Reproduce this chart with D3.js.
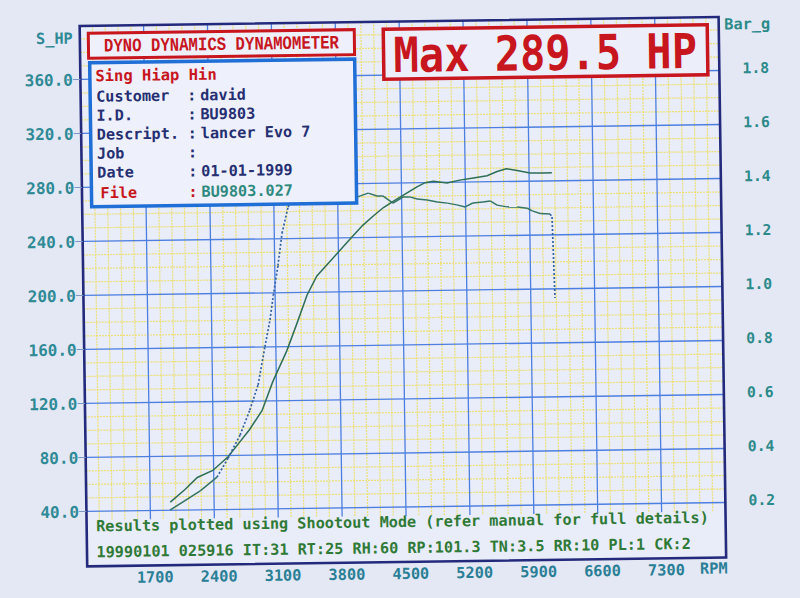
<!DOCTYPE html>
<html><head><meta charset="utf-8">
<script src="https://cdn.jsdelivr.net/npm/d3@7"></script>
<style>body{margin:0;background:#e4e8f5;overflow:hidden}</style>
</head><body>
<svg id="c" width="800" height="598"></svg>
<script>
// ---- data ----
const rpmTicks = [1700, 2400, 3100, 3800, 4500, 5200, 5900, 6600, 7300];
const hpTicks = [40, 80, 120, 160, 200, 240, 280, 320, 360];
const barTicks = [0.2, 0.4, 0.6, 0.8, 1.0, 1.2, 1.4, 1.6, 1.8];

const powerRpm = [1920, 2080, 2220, 2390, 2560, 2680, 2800, 2940, 3060, 3220, 3340, 3450, 3560, 3670, 3780, 3930, 4070, 4190, 4300, 4420, 4520, 4670, 4760, 4850, 5000, 5140, 5290, 5440, 5550, 5650, 5770, 5910, 6050, 6150];
const powerHp  = [46, 55, 64, 69, 79, 89, 99, 113, 134, 157, 178, 198, 212, 220, 228, 239, 249, 256, 262, 267, 271, 277, 280, 281, 279.5, 281.5, 283, 284.5, 287.5, 289.5, 288, 286, 286, 286];

const boostRpm = [1915, 2250, 2435, 2560, 2695, 2805, 2900, 2980, 3040, 3080, 3135, 3185, 3255, 3335, 3550, 3830, 4010, 4135, 4230, 4295, 4405, 4515, 4590, 4670, 4780, 4890, 5000, 5105, 5195, 5280, 5390, 5470, 5545, 5655, 5765, 5875, 5930, 6015, 6125, 6145, 6165];
const boostBar = [0.20, 0.27, 0.32, 0.39, 0.475, 0.567, 0.66, 0.80, 0.90, 0.99, 1.10, 1.22, 1.317, 1.36, 1.38, 1.366, 1.35, 1.364, 1.353, 1.353, 1.326, 1.348, 1.348, 1.34, 1.336, 1.328, 1.323, 1.316, 1.308, 1.322, 1.325, 1.329, 1.313, 1.306, 1.305, 1.30, 1.29, 1.28, 1.277, 1.266, 0.966];

const titleText = "DYNO DYNAMICS DYNAMOMETER";
const maxText = "Max 289.5 HP";
const shopName = "Sing Hiap Hin";
const infoLabels = ["Customer", "I.D.", "Descript.", "Job", "Date", "File"];
const infoValues = ["david", "BU9803", "lancer Evo 7", "", "01-01-1999", "BU9803.027"];
const footLine1 = "Results plotted using Shootout Mode (refer manual for full details)";
const footLine2 = "19990101 025916 IT:31 RT:25 RH:60 RP:101.3 TN:3.5 RR:10 PL:1 CK:2";
const leftTitle = "S_HP", rightTitle = "Bar_g", xUnit = "RPM";

// ---- layout ----
const L = 83.5, R = 722.5, T = 21.5, B = 562, gridBottom = 516;
const x = d3.scaleLinear().domain([1000, 8000]).range([L, R]);
const y = d3.scaleLinear().domain([0, 400]).range([561, 21]);
const yb = d3.scaleLinear().domain([0, 2]).range([561, 21]);

const MONO = "'DejaVu Sans Mono', monospace";
const SERIF_MONO = "'Liberation Mono', 'Courier New', monospace";
const RED = "#c8161e", NAVY = "#252f72", TEAL = "#2c8a8a", GREEN = "#2f7a36";

const svg = d3.select("#c");
svg.append("rect").attr("width", 800).attr("height", 598).attr("fill", "#e4e8f5");
const g = svg.append("g").attr("transform", "rotate(-0.8 400 299)");

function txt(s, px, py, o) {
  const t = g.append("text").text(s)
    .attr("font-family", o.font || MONO).attr("font-weight", "bold")
    .attr("font-size", o.size || 16).attr("fill", o.fill || NAVY)
    .attr("text-anchor", o.anchor || "start");
  if (o.sy) t.attr("x", 0).attr("y", 0).attr("transform", `translate(${px},${py}) scale(1,${o.sy})`);
  else t.attr("x", px).attr("y", py);
  if (o.cw) t.attr("textLength", s.length * o.cw).attr("lengthAdjust", "spacingAndGlyphs");
  return t;
}

// plot background
g.append("rect").attr("x", L).attr("y", T).attr("width", R - L).attr("height", B - T).attr("fill", "#e9ecf9");

// clip for grid
svg.append("defs").append("clipPath").attr("id", "gc").append("rect")
  .attr("x", L).attr("y", T).attr("width", R - L).attr("height", gridBottom - T);
const grid = g.append("g").attr("clip-path", "url(#gc)");

// minor grid
const minorX = d3.range(1000, 8001, 140).filter(v => (v - 1000) % 700 !== 0);
const minorY = d3.range(0, 401, 10).filter(v => v % 40 !== 0);
grid.selectAll(".mx").data(minorX).join("line")
  .attr("x1", d => x(d)).attr("x2", d => x(d)).attr("y1", T).attr("y2", gridBottom)
  .attr("stroke", "#eedd55").attr("stroke-opacity", 0.8).attr("stroke-width", 1.2).attr("stroke-dasharray", "2,1");
grid.selectAll(".my").data(minorY).join("line")
  .attr("y1", d => y(d)).attr("y2", d => y(d)).attr("x1", L).attr("x2", R)
  .attr("stroke", "#eedd55").attr("stroke-opacity", 0.8).attr("stroke-width", 1.2).attr("stroke-dasharray", "2,1");
// major grid
grid.selectAll(".Mx").data(rpmTicks).join("line")
  .attr("x1", d => x(d)).attr("x2", d => x(d)).attr("y1", T).attr("y2", gridBottom)
  .attr("stroke", "#4d7fe0").attr("stroke-width", 1.3);
grid.selectAll(".My").data(hpTicks).join("line")
  .attr("y1", d => y(d)).attr("y2", d => y(d)).attr("x1", L).attr("x2", R)
  .attr("stroke", "#4d7fe0").attr("stroke-width", 1.3);

// curves
const power = powerRpm.map((r, i) => [r, powerHp[i]]);
const boost = boostRpm.map((r, i) => [r, boostBar[i]]);
const pl = d3.line().x(d => x(d[0])).y(d => y(d[1]));
const bl = d3.line().x(d => x(d[0])).y(d => yb(d[1]));
g.append("path").attr("d", pl(power)).attr("fill", "none")
  .attr("stroke", "#2e6e55").attr("stroke-width", 1.5);
for (let i = 0; i < boost.length - 1; i++) {
  const a = boost[i], b = boost[i + 1];
  const dx = Math.abs(x(b[0]) - x(a[0])), dy = Math.abs(yb(b[1]) - yb(a[1]));
  const steep = dy > 1.5 * dx;
  g.append("path").attr("d", bl([a, b])).attr("fill", "none")
    .attr("stroke", steep ? "#3262a0" : "#357563").attr("stroke-width", steep ? 1.7 : 1.5)
    .attr("stroke-dasharray", steep ? "2,2" : null);
}

// frame
g.append("rect").attr("x", L).attr("y", T).attr("width", R - L).attr("height", B - T)
  .attr("fill", "none").attr("stroke", "#232a7c").attr("stroke-width", 2.6);

// left axis ticks + labels
g.selectAll(".lt").data(hpTicks).join("line")
  .attr("x1", 76).attr("x2", L).attr("y1", d => y(d)).attr("y2", d => y(d))
  .attr("stroke", "#7b96c8").attr("stroke-width", 1);
hpTicks.forEach(v => txt(v.toFixed(1), 76, y(v) + 6, {anchor: "end", size: 16, fill: "#2f8a96"}));
barTicks.forEach(v => txt(v.toFixed(1), 759, yb(v) + 3, {anchor: "middle", size: 14.8, fill: TEAL}));
rpmTicks.forEach(v => txt(String(v), x(v) + 4, 579, {anchor: "middle", size: 15.3, fill: "#2a7f96"}));
txt(xUnit, 710, 578, {anchor: "middle", size: 15.3, fill: "#2a7f96"});
txt(leftTitle, 58, 39, {anchor: "middle", size: 15.3, fill: "#2f8a96"});
txt(rightTitle, 751, 34, {anchor: "middle", size: 15.3, fill: TEAL});

// footer
txt(footLine1, 93, 527, {size: 15.2, fill: GREEN});
txt(footLine2, 93, 553, {size: 15.2, fill: GREEN});

// title box
g.append("rect").attr("x", 92).attr("y", 29).attr("width", 266).attr("height", 25)
  .attr("fill", "#eef0fb").attr("stroke", RED).attr("stroke-width", 3);
txt(titleText, 225, 47.5, {anchor: "middle", font: SERIF_MONO, size: 19, fill: RED, cw: 9.4});

// info box
g.append("rect").attr("x", 93).attr("y", 58.5).attr("width", 265).attr("height", 144)
  .attr("fill", "#eef0fb").attr("stroke", "#1f6fd6").attr("stroke-width", 3.5);
txt(shopName, 98.5, 77, {size: 15.5, fill: RED});
const rowY = [97.5, 116.5, 135.5, 154.5, 173.5, 194];
infoLabels.forEach((lab, i) => {
  const isFile = lab === "File";
  txt(lab, isFile ? 102 : 99, rowY[i], {size: 15.2, fill: isFile ? RED : NAVY});
  txt(":", 190, rowY[i], {size: 15.2, fill: isFile ? RED : NAVY});
  if (infoValues[i]) txt(infoValues[i], 203, rowY[i], {size: 15.2, fill: isFile ? "#2e8a80" : NAVY});
});

// max box
g.append("rect").attr("x", 387).attr("y", 29).attr("width", 324).attr("height", 50)
  .attr("fill", "#eceefa").attr("stroke", RED).attr("stroke-width", 3.5);
txt(maxText, 397, 72, {size: 42, fill: RED, sy: 1.15});
</script>
</body></html>
